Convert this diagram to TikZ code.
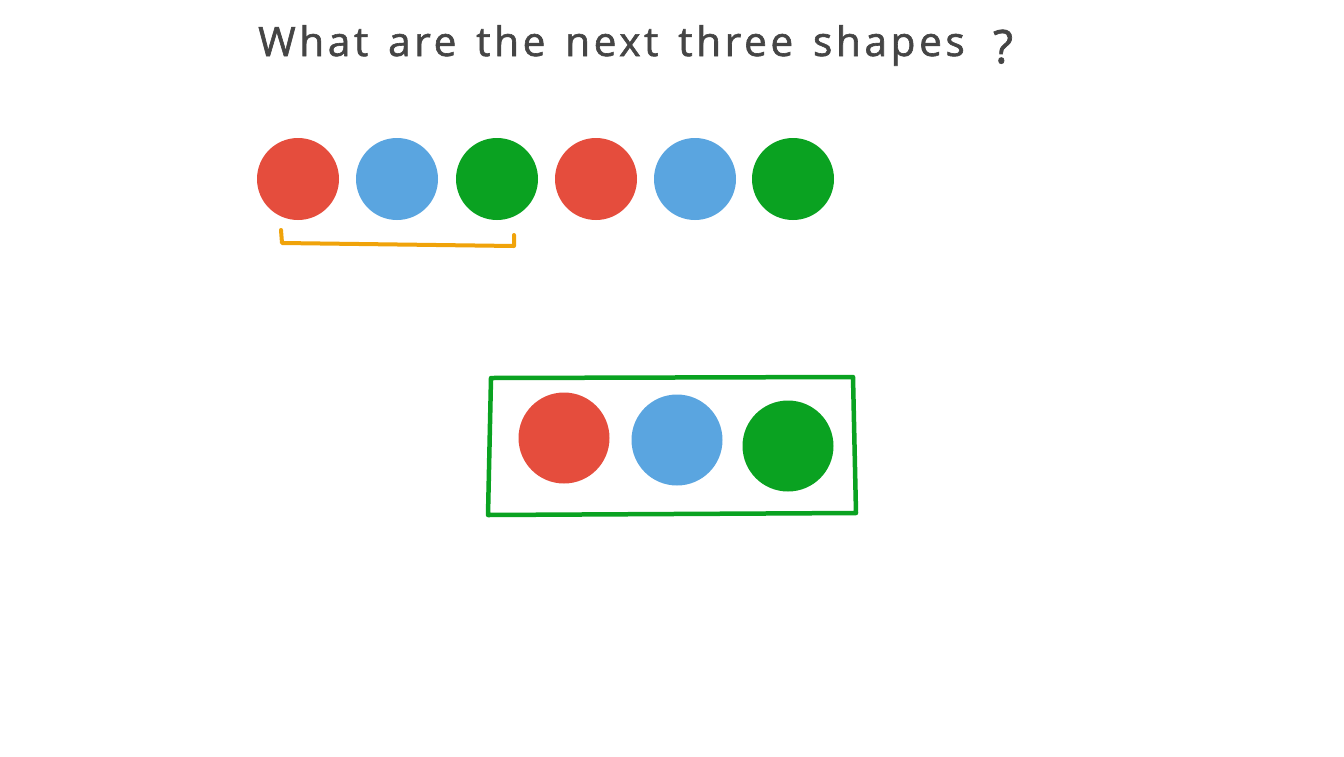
\documentclass[tikz,border=0pt]{standalone}
\usepackage{fontspec}
\setmainfont{Open Sans}
\newfontfamily\titlefont[LetterSpace=9,WordSpace=1.4,FakeBold=1.5]{Open Sans}
\definecolor{cred}{HTML}{E54D3D}
\definecolor{cblue}{HTML}{5AA5E0}
\definecolor{cgreen}{HTML}{0AA221}
\definecolor{corange}{HTML}{F0A30A}
\definecolor{ctext}{HTML}{454545}
\begin{document}
\begin{tikzpicture}[x=1pt,y=-1pt,
  dot/.style={circle,fill=#1,inner sep=0pt,minimum size=82pt},
  bigdot/.style={circle,fill=#1,inner sep=0pt,minimum size=91pt},
  bracketline/.style={draw=corange,line width=4pt,line join=round,line cap=round},
  boxline/.style={draw=cgreen,line width=4.5pt,line join=round,line cap=round}]
\useasboundingbox[fill=white] (0,0) rectangle (1344,756);
\node[anchor=base west,text=ctext,font=\titlefont\fontsize{40.5}{45}\selectfont,inner sep=0pt] (title) at (258,56) {What are the next three shapes};
\node[anchor=base west,text=ctext,font=\titlefont\fontsize{46}{50}\selectfont,inner sep=0pt] (qmark) at (993,63) {?};
\node[dot=cred] (c1) at (298,179) {};
\node[dot=cblue] (c2) at (397,179) {};
\node[dot=cgreen] (c3) at (497,179) {};
\node[dot=cred] (c4) at (596,179) {};
\node[dot=cblue] (c5) at (695,179) {};
\node[dot=cgreen] (c6) at (793,179) {};
\coordinate (b1) at (281,230);
\coordinate (b2) at (282,243);
\coordinate (b3) at (514,246);
\coordinate (b4) at (514,235);
\draw[bracketline] (b1) -- (b2) -- (b3) -- (b4);
\coordinate (r1) at (491,378);
\coordinate (r2) at (853,377);
\coordinate (r3) at (856,513);
\coordinate (r4) at (488,515);
\draw[boxline] (r1) -- (r2) -- (r3) -- (r4) -- cycle;
\node[bigdot=cred] (d1) at (564,438) {};
\node[bigdot=cblue] (d2) at (677,440) {};
\node[bigdot=cgreen] (d3) at (788,446) {};
\end{tikzpicture}
\end{document}
